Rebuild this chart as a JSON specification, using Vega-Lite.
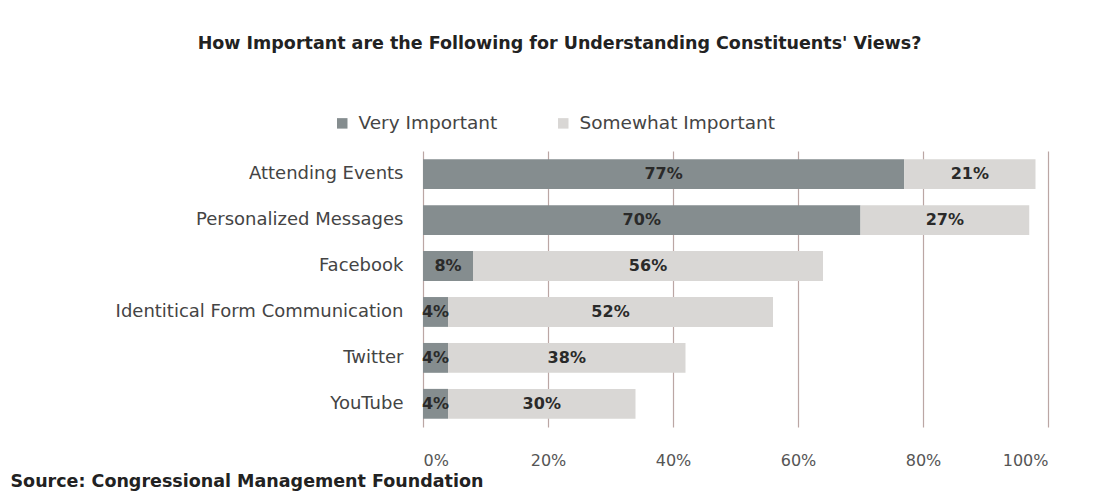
{
  "$schema": "https://vega.github.io/schema/vega-lite/v6.json",
  "width": 625,
  "height": 276,
  "autosize": {"type": "none"},
  "padding": {"left": 423, "top": 151, "right": 45, "bottom": 64},
  "background": "white",
  "config": {"view": {"stroke": null}},
  "title": {
    "text": "How Important are the Following for Understanding Constituents' Views?",
    "anchor": "middle",
    "dx": -176,
    "offset": 62,
    "font": "DejaVu Sans",
    "fontSize": 17.5,
    "fontWeight": "bold",
    "color": "#222222"
  },
  "data": {
    "values": [
      {"category": "Attending Events", "type": "Very Important", "value": 0.77},
      {"category": "Attending Events", "type": "Somewhat Important", "value": 0.21},
      {"category": "Personalized Messages", "type": "Very Important", "value": 0.70},
      {"category": "Personalized Messages", "type": "Somewhat Important", "value": 0.27},
      {"category": "Facebook", "type": "Very Important", "value": 0.08},
      {"category": "Facebook", "type": "Somewhat Important", "value": 0.56},
      {"category": "Identitical Form Communication", "type": "Very Important", "value": 0.04},
      {"category": "Identitical Form Communication", "type": "Somewhat Important", "value": 0.52},
      {"category": "Twitter", "type": "Very Important", "value": 0.04},
      {"category": "Twitter", "type": "Somewhat Important", "value": 0.38},
      {"category": "YouTube", "type": "Very Important", "value": 0.04},
      {"category": "YouTube", "type": "Somewhat Important", "value": 0.30}
    ]
  },
  "encoding": {
    "y": {
      "field": "category",
      "type": "nominal",
      "sort": null,
      "title": null,
      "scale": {"paddingInner": 0.35, "paddingOuter": 0.18},
      "axis": {
        "domain": false,
        "ticks": false,
        "grid": false,
        "labelFont": "DejaVu Sans",
        "labelFontSize": 18,
        "labelColor": "#444444",
        "labelPadding": 20,
        "labelLimit": 420
      }
    }
  },
  "layer": [
    {
      "mark": {"type": "bar"},
      "encoding": {
        "x": {
          "field": "value",
          "type": "quantitative",
          "stack": "zero",
          "scale": {"domain": [0, 1]},
          "title": "Source: Congressional Management Foundation",
          "axis": {
            "format": ".0%",
            "values": [0, 0.2, 0.4, 0.6, 0.8, 1],
            "labelOverlap": false,
            "domain": false,
            "ticks": false,
            "grid": true,
            "gridColor": "#bba6a4",
            "gridWidth": 1.2,
            "labelFont": "DejaVu Sans",
            "labelFontSize": 16,
            "labelColor": "#555555",
            "labelPadding": 25,
            "titleFont": "DejaVu Sans",
            "titleFontSize": 17.5,
            "titleFontWeight": "bold",
            "titleColor": "#222222",
            "titleAlign": "left",
            "titleAnchor": "start",
            "titleBaseline": "alphabetic",
            "titleX": -413,
            "titleY": 59
          }
        },
        "color": {
          "field": "type",
          "type": "nominal",
          "scale": {"domain": ["Very Important", "Somewhat Important"], "range": ["#858d8f", "#d9d7d5"]},
          "legend": {
            "title": null,
            "orient": "none",
            "direction": "horizontal",
            "legendX": -90,
            "legendY": -37,
            "symbolType": "square",
            "symbolSize": 110,
            "symbolStrokeWidth": 0,
            "labelFont": "DejaVu Sans",
            "labelFontSize": 18.5,
            "labelColor": "#444444",
            "columnPadding": 56,
            "labelOffset": 7,
            "labelLimit": 300
          }
        },
        "order": {"field": "type", "sort": "descending"}
      }
    },
    {
      "mark": {"type": "text", "font": "DejaVu Sans", "fontSize": 16, "fontWeight": "bold", "color": "#2a2a2a", "baseline": "middle"},
      "encoding": {
        "x": {"field": "value", "type": "quantitative", "stack": "zero", "bandPosition": 0.5},
        "text": {"field": "value", "type": "quantitative", "format": ".0%"},
        "detail": {"field": "type"},
        "order": {"field": "type", "sort": "descending"}
      }
    }
  ]
}
